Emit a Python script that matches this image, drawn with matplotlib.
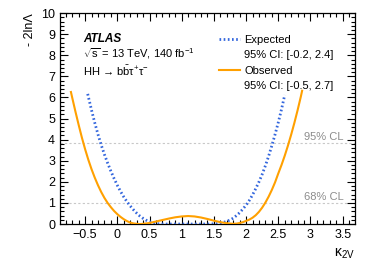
import numpy as np
import matplotlib
matplotlib.use("Agg")
import matplotlib.pyplot as plt
from matplotlib.lines import Line2D
from matplotlib.ticker import MultipleLocator

plt.rcParams['font.family'] = ['Liberation Sans', 'DejaVu Sans']
plt.rcParams['mathtext.fontset'] = 'custom'
plt.rcParams['mathtext.rm'] = 'Liberation Sans'
plt.rcParams['mathtext.it'] = 'Liberation Sans:italic'

# Expected scan
exp_k2v = [-0.46, -0.4, -0.35, -0.3, -0.25, -0.2, -0.15, -0.1, -0.05, 0.0, 0.05, 0.1,
           0.15, 0.2, 0.25, 0.3, 0.35, 0.4, 0.45, 0.5, 0.55, 0.6, 0.65, 0.7, 0.8,
           0.9, 1.0, 1.1, 1.2, 1.3, 1.4, 1.5, 1.55, 1.6, 1.65, 1.7, 1.75, 1.8, 1.85,
           1.9, 1.95, 2.0, 2.05, 2.1, 2.15, 2.2, 2.25, 2.3, 2.35, 2.4, 2.45, 2.5,
           2.55, 2.6]
exp_nll = [6.17, 5.4, 4.8, 4.25, 3.75, 3.3, 2.89, 2.51, 2.16, 1.84, 1.55, 1.29,
           1.06, 0.86, 0.68, 0.52, 0.38, 0.27, 0.18, 0.11, 0.06, 0.03, 0.01, 0.0, 0.0,
           0.0, 0.0, 0.0, 0.0, 0.0, 0.0, 0.01, 0.02, 0.04, 0.08, 0.13, 0.19, 0.28, 0.4,
           0.54, 0.71, 0.9, 1.12, 1.38, 1.68, 2.0, 2.36, 2.77, 3.22, 3.72, 4.25, 4.82,
           5.44, 6.12]

# Observed scan
obs_k2v = [-0.72, -0.7, -0.65, -0.6, -0.55, -0.5, -0.45, -0.4, -0.35, -0.3, -0.25,
           -0.2, -0.15, -0.1, -0.05, 0.0, 0.05, 0.1, 0.15, 0.2, 0.25, 0.3, 0.35,
           0.4, 0.5, 0.6, 0.7, 0.8, 0.9, 1.0, 1.1, 1.2, 1.3, 1.4, 1.5, 1.6, 1.7,
           1.8, 1.85, 1.9, 1.95, 2.0, 2.05, 2.1, 2.15, 2.2, 2.25, 2.3, 2.35, 2.4,
           2.45, 2.5, 2.55, 2.6, 2.65, 2.7, 2.75, 2.8, 2.85, 2.87]
obs_nll = [6.26, 5.99, 5.33, 4.7, 4.1, 3.55, 3.05, 2.6, 2.2, 1.84, 1.52,
           1.24, 1.0, 0.8, 0.62, 0.47, 0.34, 0.23, 0.14, 0.07, 0.03, 0.01, 0.0,
           0.01, 0.05, 0.12, 0.19, 0.26, 0.32, 0.36, 0.38, 0.36, 0.31, 0.24, 0.16, 0.09, 0.04,
           0.01, 0.02, 0.05, 0.09, 0.15, 0.21, 0.3, 0.42, 0.58, 0.78, 1.02, 1.3, 1.62,
           1.98, 2.4, 2.8, 3.24, 3.72, 4.24, 4.8, 5.4, 6.04, 6.32]

cl_levels = [1.0, 3.84]
cl_labels = ['68% CL', '95% CL']

fig = plt.figure(figsize=(3.74, 2.68), dpi=100)
ax = fig.add_axes([0.1604, 0.164, 0.7886, 0.787])

for lvl, lab in zip(cl_levels, cl_labels):
    ax.axhline(lvl, color='#c8c8c8', lw=0.8, ls=(0, (2, 2)), zorder=1)
    ax.text(3.52, lvl + 0.05, lab, color='#8c8c8c', fontsize=8,
            ha='right', va='bottom', zorder=2)

l_exp, = ax.plot(exp_k2v, exp_nll, color='#3366dd', lw=2.0,
                 ls=(0, (0.6, 0.9)), zorder=3)
l_obs, = ax.plot(obs_k2v, obs_nll, color='#ffa000', lw=1.5, zorder=4)

ax.set_xlim(-0.89, 3.69)
ax.set_ylim(0, 10)
ax.xaxis.set_major_locator(MultipleLocator(0.5))
ax.xaxis.set_minor_locator(MultipleLocator(0.1))
ax.yaxis.set_major_locator(MultipleLocator(1))
ax.yaxis.set_minor_locator(MultipleLocator(0.2))
ax.tick_params(which='both', direction='in', top=True, right=True, labelsize=9)
ax.tick_params(which='major', length=6, width=0.8)
ax.tick_params(which='minor', length=3, width=0.8)
ax.set_xticks(np.arange(-0.5, 3.51, 0.5))
ax.set_xticklabels(['\u22120.5', '0', '0.5', '1', '1.5', '2', '2.5', '3', '3.5'])
for s in ax.spines.values():
    s.set_linewidth(0.9)

ax.set_xlabel(r'$\mathregular{\kappa_{2V}}$', loc='right', fontsize=10)
ax.set_ylabel('- 2ln\u039b', loc='top', fontsize=9)

ax.text(0.078, 0.877, 'ATLAS', transform=ax.transAxes, fontsize=8.5,
        fontweight='bold', style='italic', va='center')
ax.text(0.078, 0.81, r'$\mathregular{\sqrt{s}}$ = 13 TeV, 140 fb$^{\mathregular{-1}}$',
        transform=ax.transAxes, fontsize=8, va='center')
ax.text(0.078, 0.725, 'HH \u2192 b' + r'$\mathregular{\bar{b}\tau^{+}\tau^{-}}$',
        transform=ax.transAxes, fontsize=8, va='center')

blank = Line2D([], [], color='none')
ax.legend([l_exp, blank, l_obs, blank],
          ['Expected', '95% CI: [-0.2, 2.4]', 'Observed', '95% CI: [-0.5, 2.7]'],
          loc='upper left', bbox_to_anchor=(0.52, 0.925), frameon=False,
          fontsize=8, handlelength=1.9, handletextpad=0.4, labelspacing=0.5,
          borderpad=0.0)

fig.savefig('out.png', dpi=100)
